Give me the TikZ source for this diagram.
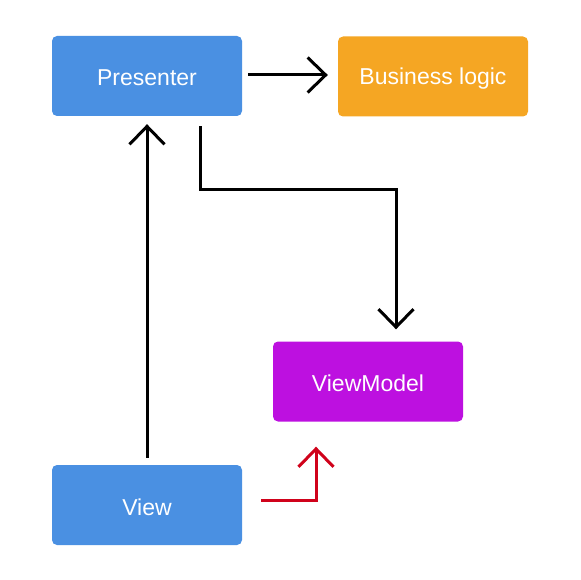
\documentclass[tikz,border=0pt]{standalone}
\usepackage{fontspec}
\setmainfont{Liberation Sans}
\usetikzlibrary{arrows.meta,calc}
\definecolor{cblue}{HTML}{4A90E2}
\definecolor{corange}{HTML}{F5A623}
\definecolor{cpurple}{HTML}{BD10E0}
\definecolor{cred}{HTML}{D0021B}
\newcommand{\lowtxt}[1]{\raisebox{-2pt}[\height][\depth]{#1}}
\begin{document}
\begin{tikzpicture}[x=1pt,y=-1pt,
  box/.style={rectangle, rounded corners=5pt, minimum width=190pt, minimum height=80pt, inner sep=0pt, text=white, font=\fontsize{23}{27}\selectfont},
  conn/.style={line width=3pt, -{Straight Barb[length=18pt,width=35pt,line width=3pt]}}]
\useasboundingbox (0,0) rectangle (580,580);
\node[box, fill=cblue] (P) at (147,76) {\lowtxt{Presenter}};
\node[box, fill=corange] (B) at (433,76.5) {\lowtxt{Business logic}};
\node[box, fill=cpurple] (VM) at (368,381.5) {\lowtxt{ViewModel}};
\node[box, fill=cblue] (V) at (147,505) {\lowtxt{View}};
\coordinate (a1) at ($(P.east)+(6,-1)$);
\coordinate (a2) at ($(B.west)+(-10,-1.5)$);
\draw[conn] (a1) -- (a2);
\coordinate (b1) at ($(P.south)+(53,10)$);
\coordinate (b2) at ($(VM.north)+(28,-12)$);
\coordinate (bm) at (0,189);
\draw[conn] (b1) -- (b1 |- bm) -| (b2);
\coordinate (c1) at ($(V.north)+(0,-7)$);
\coordinate (c2) at ($(P.south)+(0,8)$);
\draw[conn] (c1) -- (c2);
\coordinate (d1) at ($(V.east)+(19,-5)$);
\coordinate (d2) at ($(VM.south)+(-52,25)$);
\draw[conn, cred] (d1) -| (d2);
\end{tikzpicture}
\end{document}
